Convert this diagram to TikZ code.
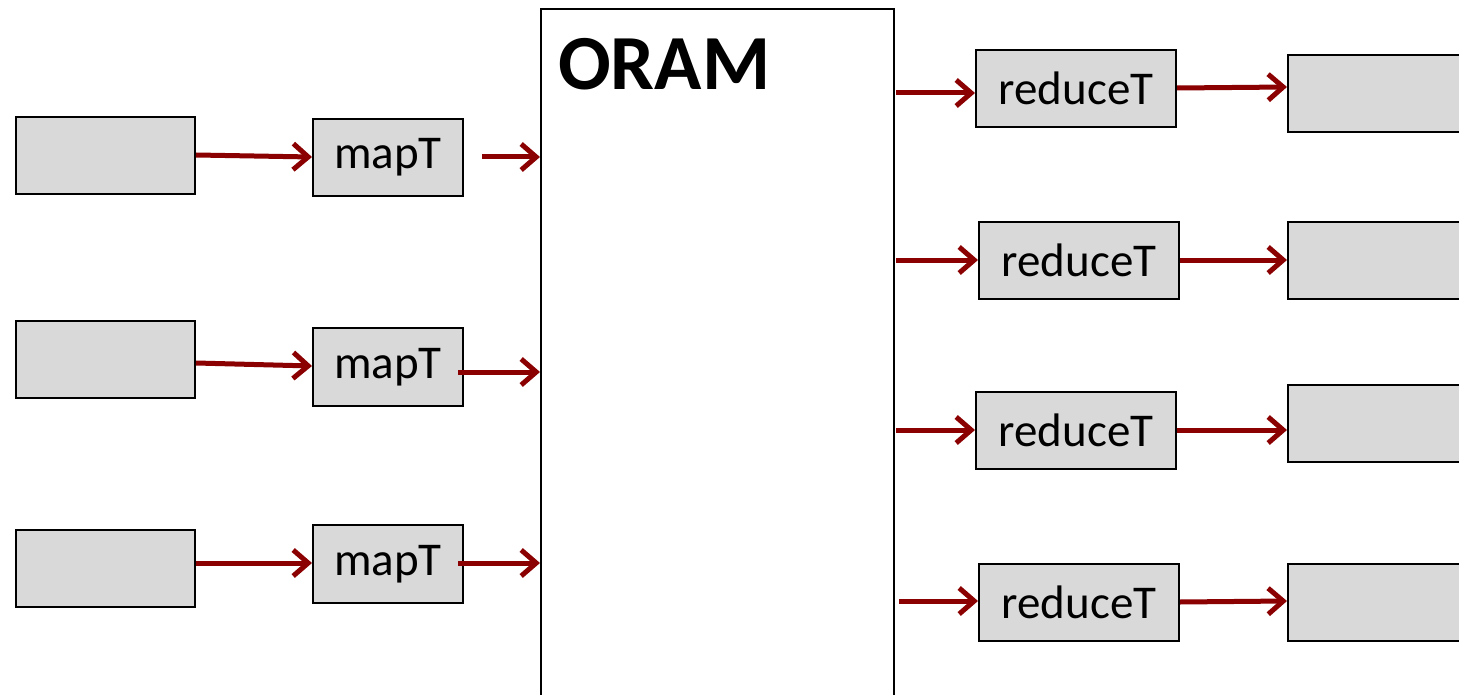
\documentclass[tikz,border=0pt]{standalone}
\usepackage{fontspec}
\setmainfont{Carlito}
\usetikzlibrary{arrows.meta}
\definecolor{boxgray}{RGB}{217,217,217}
\definecolor{arrowred}{RGB}{139,0,0}
\begin{document}
\begin{tikzpicture}[x=1pt,y=-1pt,
  gbox/.style={draw=black,line width=2pt,fill=boxgray,inner sep=0pt,anchor=north west},
  lbl/.style={font=\fontsize{47}{50}\selectfont},
  flow/.style={draw=arrowred,line width=5pt,-{Straight Barb[length=15pt,width=26pt,line width=5pt]}}]
\useasboundingbox (0,0) rectangle (1459,695);
\clip (0,0) rectangle (1459,695);
% left input boxes
\node[gbox,minimum width=179pt,minimum height=77pt] (in1) at (15,116) {};
\node[gbox,minimum width=179pt,minimum height=77pt] (in2) at (15,320) {};
\node[gbox,minimum width=179pt,minimum height=77pt] (in3) at (15,529) {};
% mapT boxes
\node[gbox,minimum width=150pt,minimum height=77pt,lbl] (m1) at (312,118) {mapT};
\node[gbox,minimum width=150pt,minimum height=78pt,lbl] (m2) at (312,327) {mapT};
\node[gbox,minimum width=150pt,minimum height=78pt,lbl] (m3) at (312,524) {mapT};
% ORAM box
\node[draw=black,line width=2pt,fill=white,inner sep=0pt,anchor=north west,minimum width=353pt,minimum height=720pt] (oram) at (540,8) {};
\node[anchor=base west,inner sep=0pt,font=\fontsize{78}{80}\selectfont\bfseries] (oramlbl) at (558,90) {ORAM};
% reduceT boxes
\node[gbox,minimum width=200pt,minimum height=77pt,lbl] (r1) at (975,49) {reduceT};
\node[gbox,minimum width=200pt,minimum height=77pt,lbl] (r2) at (978,221) {reduceT};
\node[gbox,minimum width=200pt,minimum height=77pt,lbl] (r3) at (975,391) {reduceT};
\node[gbox,minimum width=200pt,minimum height=77pt,lbl] (r4) at (978,563) {reduceT};
% right output boxes
\node[gbox,minimum width=185pt,minimum height=77pt] (o1) at (1287,54) {};
\node[gbox,minimum width=185pt,minimum height=77pt] (o2) at (1287,221) {};
\node[gbox,minimum width=185pt,minimum height=77pt] (o3) at (1287,384) {};
\node[gbox,minimum width=185pt,minimum height=77pt] (o4) at (1287,563) {};
% connector coordinates
\coordinate (a1) at (482,157);
\coordinate (a2) at (458,372);
\coordinate (a3) at (458,563);
\coordinate (b1) at (896,93);
\coordinate (b2) at (896,260);
\coordinate (b3) at (896,430);
\coordinate (b4) at (899,601);
% arrows: inputs to mapT
\draw[flow] (in1.east |- 0,155) -- (m1.west |- 0,157);
\draw[flow] (in2.east |- 0,363) -- (m2.west |- 0,366);
\draw[flow] (in3.east |- 0,563) -- (m3.west |- 0,563);
% mapT to ORAM
\draw[flow] (a1) -- (oram.west |- a1);
\draw[flow] (a2) -- (oram.west |- a2);
\draw[flow] (a3) -- (oram.west |- a3);
% ORAM to reduceT
\draw[flow] (b1) -- (r1.west |- b1);
\draw[flow] (b2) -- (r2.west |- b2);
\draw[flow] (b3) -- (r3.west |- b3);
\draw[flow] (b4) -- (r4.west |- b4);
% reduceT to outputs
\draw[flow] (r1.east |- 0,88) -- (o1.west |- 0,87);
\draw[flow] (r2.east |- 0,260) -- (o2.west |- 0,260);
\draw[flow] (r3.east |- 0,430) -- (o3.west |- 0,430);
\draw[flow] (r4.east |- 0,602) -- (o4.west |- 0,601);
\end{tikzpicture}
\end{document}
